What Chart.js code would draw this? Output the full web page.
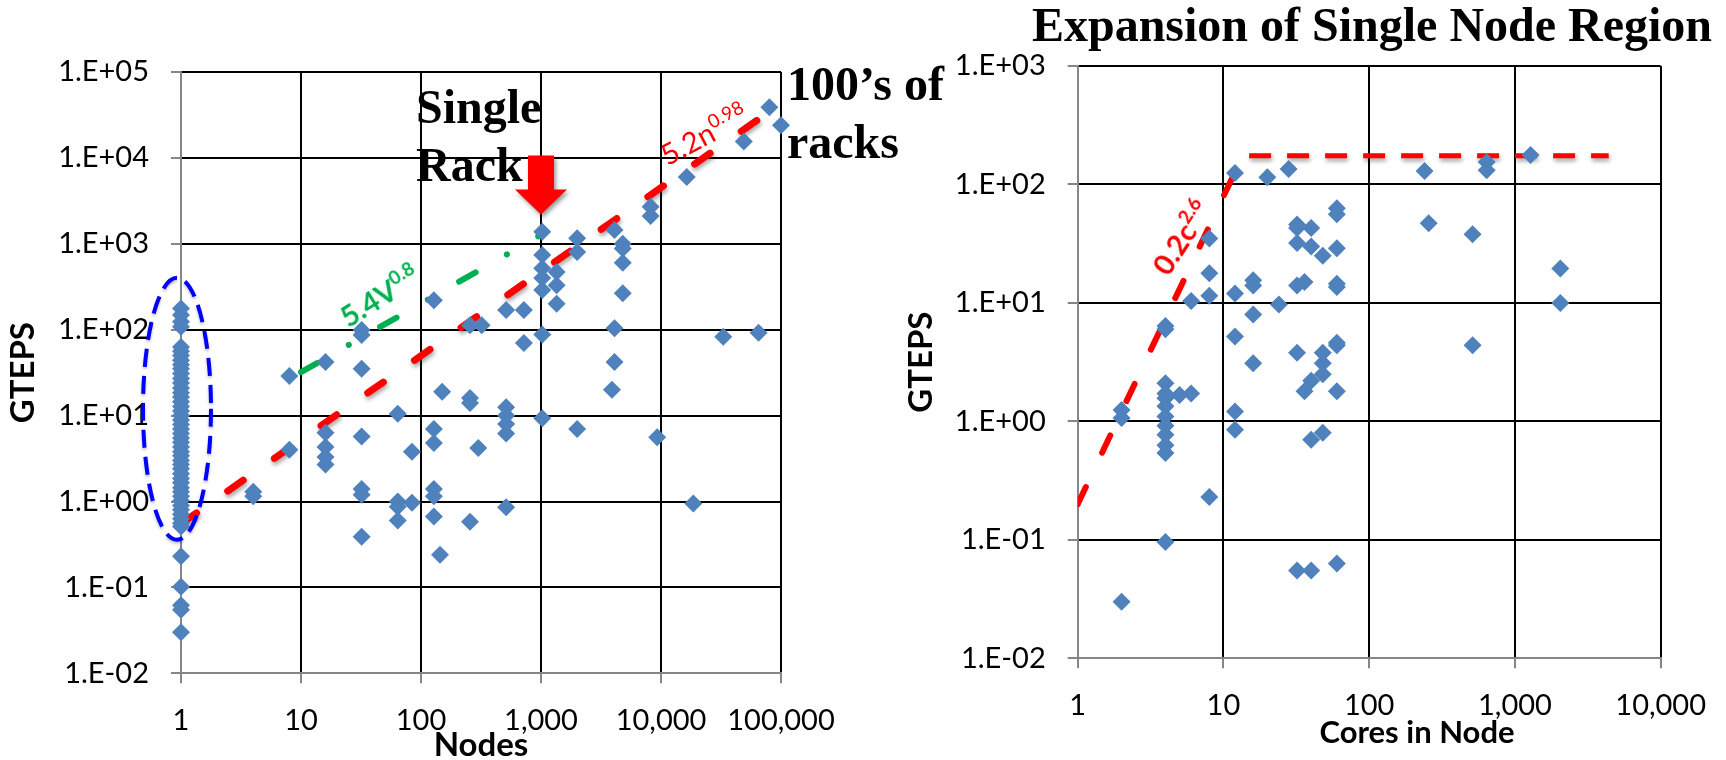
<!DOCTYPE html>
<html>
<head>
<meta charset="utf-8">
<script src="https://cdn.jsdelivr.net/npm/chart.js@4.4.1/dist/chart.umd.min.js"></script>
<style>
    html, body { margin: 0; padding: 0; background: #fff; }
    body { width: 1726px; height: 760px; position: relative; overflow: hidden; }
    canvas { position: absolute; top: 0; }
    #node-chart { left: 0; }
    #core-chart { left: 900px; }
    .note { position: absolute; white-space: nowrap; font-family: "Liberation Serif", "Times New Roman", serif;
            font-weight: bold; font-size: 48px; line-height: 58px; color: #000; }
    .axis-title { position: absolute; white-space: nowrap; font-family: Lato, "Noto Sans", sans-serif;
                  font-weight: bold; font-size: 31px; line-height: 31px; transform: translate(-50%, -50%); }
    .fit { position: absolute; white-space: nowrap; font-family: Lato, "Noto Sans", sans-serif;
           font-size: 29px; line-height: 29px; transform-origin: 0 100%; }
    .fit sup { font-size: 19px; vertical-align: 12px; line-height: 0; }
</style>
</head>
<body>
<canvas id="node-chart" width="950" height="760"></canvas>
<canvas id="core-chart" width="826" height="760"></canvas>

<div class="note" style="left:416px;top:78px">Single<br>Rack</div>
<div class="note" style="left:787px;top:55px">100’s of<br>racks</div>
<div class="note" style="left:1372px;top:-4px;transform:translateX(-50%)">Expansion of Single Node Region</div>
<div class="axis-title" style="left:1417px;top:731px">Cores in Node</div>
<div class="fit" style="left:669px;top:140px;color:#ff0000;transform:rotate(-28deg)">5.2n<sup>0.98</sup></div>
<div class="fit" style="left:350px;top:302px;color:#00b050;font-weight:bold;transform:rotate(-32deg)">5.4V<sup>0.8</sup></div>
<div class="fit" style="left:1171px;top:250px;color:#ff0000;font-weight:bold;transform:rotate(-57deg)">0.2c<sup>2.6</sup></div>

<script>
// ---- data: left chart (GTEPS vs nodes) ----
const nodeCounts = [
    1, 1, 1, 1, 1, 1, 1, 1, 1, 1, 1, 1, 1, 1, 1, 1, 1, 1, 1, 1, 1, 1, 1, 1, 1,
    1, 1, 1, 1, 1, 1, 1, 1, 1, 1, 1, 1, 1, 1, 1, 1, 1, 1, 1, 1, 1, 1, 1, 1, 1,
    4, 4, 8, 8, 16, 16, 16, 16, 16,
    32, 32, 32, 32, 32, 32, 32, 64, 64, 64, 64, 84, 84,
    128, 128, 128, 128, 128, 128, 144, 150,
    256, 256, 256, 256, 300, 320,
    512, 512, 512, 512, 512, 512, 720, 720,
    1024, 1024, 1024, 1024, 1024, 1024, 1024, 1350, 1350, 1350,
    2000, 2000, 2000, 3900, 4096, 4096, 4096,
    4800, 4800, 4800, 4800, 8192, 8192, 9300, 16384, 18600,
    33000, 49000, 65000, 80000, 100000
];
const nodeGteps = [
    177, 148, 124, 108, 63, 56, 50, 44, 39, 35, 31, 27, 24, 21, 18.5, 16.5, 14.5, 12.8, 11.3, 10, 8.9, 7.9, 7, 6.2, 5.5,
    4.9, 4.3, 3.8, 3.4, 3.0, 2.7, 2.4, 2.1, 1.85, 1.65, 1.45, 1.3, 1.15, 1.02, 0.9, 0.8, 0.71, 0.63, 0.56, 0.51, 0.23, 0.102, 0.062, 0.055, 0.03,
    1.3, 1.15, 29, 4, 42, 6.3, 4.3, 3.3, 2.7,
    99, 87, 35, 5.7, 1.4, 1.2, 0.39, 10.5, 1.0, 0.87, 0.6, 3.8, 0.97,
    220, 7, 4.8, 1.4, 1.15, 0.67, 0.24, 19,
    113, 16, 14, 0.58, 4.2, 113,
    170, 12.5, 10, 8, 6.2, 0.86, 170, 70,
    1380, 740, 520, 400, 290, 88, 9.3, 470, 330, 200,
    1160, 800, 7, 20, 1450, 104, 42,
    1000, 880, 600, 265, 2700, 2100, 5.6, 6000, 0.95,
    83, 15500, 92, 39000, 24000
];
// fitted trend lines, read at their two ends
const rackFitNodes = [1, 100000];
const rackFitGteps = [0.55, 43000];
const volumeFitNodes = [10, 1000];
const volumeFitGteps = [32, 1270];

const nodeTicks = [1, 10, 100, 1000, 10000, 100000];
const nodeTickLabels = ['1', '10', '100', '1,000', '10,000', '100,000'];
const nodeGtepsTicks = [0.01, 0.1, 1, 10, 100, 1000, 10000, 100000];
const nodeGtepsTickLabels = ['1.E-02', '1.E-01', '1.E+00', '1.E+01', '1.E+02', '1.E+03', '1.E+04', '1.E+05'];

// ---- data: right chart (GTEPS vs cores in one node) ----
const coreCounts = [
    2, 2, 2,
    4, 4, 4, 4, 4, 4, 4, 4, 4, 4, 4, 4,
    5, 6, 6, 8, 8, 8, 8,
    12, 12, 12, 12, 12, 16, 16, 16, 16, 20, 24, 28,
    32, 32, 32, 32, 32, 32, 36, 36,
    40, 40, 40, 40, 40, 48, 48, 48, 48, 48,
    60, 60, 60, 60, 60, 60, 60, 60, 60,
    240, 256, 512, 512, 640, 640, 1280, 2048, 2048
];
const coreGteps = [
    1.25, 1.07, 0.03,
    6.4, 6.0, 2.1, 1.72, 1.57, 1.34, 1.1, 0.92, 0.77, 0.63, 0.54, 0.096,
    1.67, 1.72, 10.4, 35, 17.8, 11.5, 0.23,
    125, 12, 5.2, 1.21, 0.85, 15.5, 14, 8, 3.1, 115, 9.7, 135,
    46, 43, 32, 14, 3.8, 0.055, 15, 1.8,
    43, 30, 2.2, 0.7, 0.055, 25, 3.8, 3.1, 2.5, 0.8,
    63, 56, 29, 14.5, 13.6, 4.6, 4.4, 1.8, 0.063,
    130, 47, 38, 4.4, 155, 132, 177, 19.5, 10
];
const coreFitCores = [1, 11.5];
const coreFitGteps = [0.2, 114];
const plateauCores = [15, 4400];
const plateauGteps = [175, 175];

const coreTicks = [1, 10, 100, 1000, 10000];
const coreTickLabels = ['1', '10', '100', '1,000', '10,000'];
const coreGtepsTicks = [0.01, 0.1, 1, 10, 100, 1000];
const coreGtepsTickLabels = ['1.E-02', '1.E-01', '1.E+00', '1.E+01', '1.E+02', '1.E+03'];

// annotation anchors (data coordinates)
const ellipseCenter = { x: 1, y: 12 };
const arrowTip = { x: 1000, y: 2200 };

Chart.defaults.font.family = 'Lato, "Noto Sans", sans-serif';
Chart.defaults.color = '#000';
Chart.defaults.animation = false;

function toPoints(xs, ys) {
    return xs.map((x, i) => ({ x: x, y: ys[i] }));
}

function diamonds(xs, ys) {
    return {
        data: toPoints(xs, ys),
        pointStyle: 'rectRot',
        pointRadius: 9,
        pointHoverRadius: 9,
        pointBorderWidth: 0,
        backgroundColor: '#4f81bd',
        borderColor: '#4f81bd',
        clip: false
    };
}

function fitLine(xs, ys, color, width, dash, cap, shadow) {
    return {
        data: toPoints(xs, ys),
        showLine: true,
        pointRadius: 0,
        borderColor: color,
        borderWidth: width,
        borderDash: dash,
        borderCapStyle: cap,
        shadow: shadow
    };
}

// Build a log axis showing only the decade ticks
function logAxis(isX, tickValues, tickLabels, boxSize, title, titlePad) {
    return {
        type: 'logarithmic',
        position: isX ? 'bottom' : 'left',
        min: tickValues[0],
        max: tickValues[tickValues.length - 1],
        afterBuildTicks: scale => { scale.ticks = tickValues.map(v => ({ value: v })); },
        afterFit: scale => {
            if (isX) scale.height = boxSize;
            else scale.width = boxSize;
        },
        ticks: {
            autoSkip: false,
            maxRotation: 0,
            padding: isX ? 20 : 22,
            font: { size: 29 },
            color: '#000',
            callback: value => tickLabels[tickValues.indexOf(value)]
        },
        grid: { color: '#000', lineWidth: 2, tickLength: 10, tickColor: '#868686', tickWidth: 2 },
        border: { color: '#868686', width: 2 },
        title: {
            display: !!title,
            text: title,
            color: '#000',
            font: { size: 33, weight: 'bold', lineHeight: 0.9 },
            padding: titlePad
        }
    };
}

// Soft shadow under some of the red lines
const lineShadow = {
    id: 'lineShadow',
    beforeDatasetDraw(chart, args) {
        if (!chart.data.datasets[args.index].shadow) return;
        const ctx = chart.ctx;
        ctx.save();
        ctx.shadowColor = 'rgba(0,0,0,0.35)';
        ctx.shadowBlur = 4;
        ctx.shadowOffsetX = 1;
        ctx.shadowOffsetY = 3;
    },
    afterDatasetDraw(chart, args) {
        if (chart.data.datasets[args.index].shadow) chart.ctx.restore();
    }
};

// Dashed ellipse round the single node column and the red "single rack" arrow
const nodeMarks = {
    id: 'nodeMarks',
    afterDatasetsDraw(chart) {
        const { ctx, scales: { x, y } } = chart;

        const cx = x.getPixelForValue(ellipseCenter.x) - 4;
        const cy = y.getPixelForValue(ellipseCenter.y);
        ctx.save();
        ctx.strokeStyle = '#0000ff';
        ctx.lineWidth = 4;
        ctx.setLineDash([18, 9]);
        ctx.shadowColor = 'rgba(0,0,0,0.25)';
        ctx.shadowBlur = 3;
        ctx.shadowOffsetY = 2;
        ctx.beginPath();
        ctx.ellipse(cx, cy, 34, 131, 0, 0, Math.PI * 2);
        ctx.stroke();
        ctx.restore();

        const ax = x.getPixelForValue(arrowTip.x);
        const ay = y.getPixelForValue(arrowTip.y);
        ctx.save();
        ctx.fillStyle = '#ff0000';
        ctx.shadowColor = 'rgba(0,0,0,0.4)';
        ctx.shadowBlur = 4;
        ctx.shadowOffsetX = 2;
        ctx.shadowOffsetY = 3;
        ctx.beginPath();
        ctx.moveTo(ax - 13, ay - 59);
        ctx.lineTo(ax + 13, ay - 59);
        ctx.lineTo(ax + 13, ay - 25);
        ctx.lineTo(ax + 26, ay - 25);
        ctx.lineTo(ax, ay);
        ctx.lineTo(ax - 26, ay - 25);
        ctx.lineTo(ax - 13, ay - 25);
        ctx.closePath();
        ctx.fill();
        ctx.restore();
    }
};

const commonOptions = {
    responsive: false,
    plugins: { legend: { display: false }, tooltip: { enabled: false } },
    events: []
};

function initializeNodeChart() {
    const ctx = document.getElementById('node-chart').getContext('2d');
    new Chart(ctx, {
        type: 'scatter',
        data: {
            datasets: [
                diamonds(nodeCounts, nodeGteps),
                fitLine(rackFitNodes, rackFitGteps, '#ff0000', 7, [19, 38], 'round', true),
                fitLine(volumeFitNodes, volumeFitGteps, '#00b050', 6, [19, 36, 0.1, 36], 'round', false)
            ]
        },
        options: {
            ...commonOptions,
            layout: { padding: { left: 0, right: 169, top: 72, bottom: 0 } },
            scales: {
                x: logAxis(true, nodeTicks, nodeTickLabels, 86.7, 'Nodes', { top: 0, bottom: 0 }),
                y: logAxis(false, nodeGtepsTicks, nodeGtepsTickLabels, 181, 'GTEPS', { top: 9, bottom: 0 })
            }
        },
        plugins: [lineShadow, nodeMarks]
    });
}

function initializeCoreChart() {
    const ctx = document.getElementById('core-chart').getContext('2d');
    new Chart(ctx, {
        type: 'scatter',
        data: {
            datasets: [
                diamonds(coreCounts, coreGteps),
                fitLine(coreFitCores, coreFitGteps, '#ff0000', 6, [19, 38], 'round', false),
                fitLine(plateauCores, plateauGteps, '#ff0000', 5, [22, 16], 'butt', true)
            ]
        },
        options: {
            ...commonOptions,
            layout: { padding: { left: 0, right: 58.3, top: 66, bottom: 0 } },
            scales: {
                x: logAxis(true, coreTicks, coreTickLabels, 101.7, '', { top: 0, bottom: 0 }),
                y: logAxis(false, coreGtepsTicks, coreGtepsTickLabels, 177.7, 'GTEPS', { top: 7, bottom: 0 })
            }
        },
        plugins: [lineShadow]
    });
}

initializeNodeChart();
initializeCoreChart();
</script>
</body>
</html>
